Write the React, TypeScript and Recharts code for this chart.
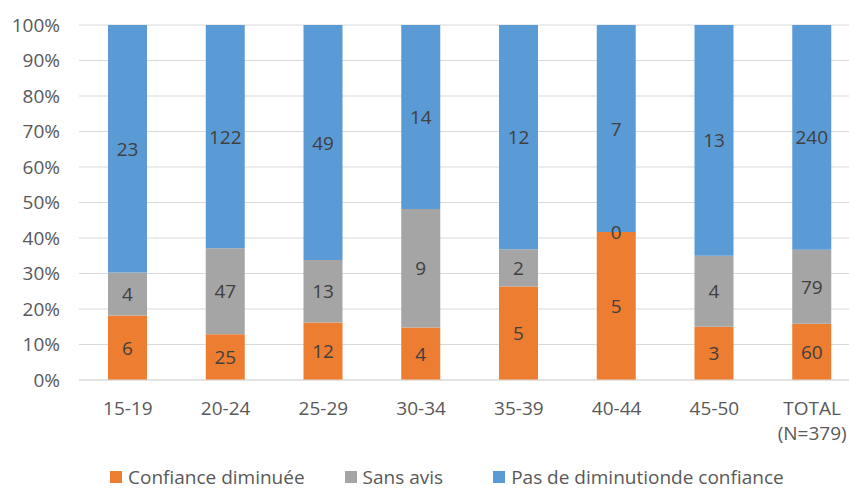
import React from 'react';
import { BarChart, Bar, XAxis, YAxis, CartesianGrid, Legend, LabelList } from 'recharts';

const categories = ['15-19', '20-24', '25-29', '30-34', '35-39', '40-44', '45-50', 'TOTAL\n(N=379)'];
const confianceDiminuee = [6, 25, 12, 4, 5, 5, 3, 60];
const sansAvis = [4, 47, 13, 9, 2, 0, 4, 79];
const pasDeDiminution = [23, 122, 49, 14, 12, 7, 13, 240];
const yTicks = [0, 0.1, 0.2, 0.3, 0.4, 0.5, 0.6, 0.7, 0.8, 0.9, 1];

const seriesNames = ['Confiance diminuée', 'Sans avis', 'Pas de diminutionde confiance'];
const colors = ['#ED7D31', '#A5A5A5', '#5B9BD5'];

const data = categories.map((c, i) => ({
  cat: c,
  a: confianceDiminuee[i],
  b: sansAvis[i],
  c: pasDeDiminution[i],
}));

const FONT = '"Open Sans", sans-serif';

const XTick = (props: any) => {
  const { x, payload } = props;
  const lines = String(payload.value).split('\n');
  return (
    <g>
      {lines.map((l: string, i: number) => (
        <text key={i} x={x} y={415 + i * 25} textAnchor="middle" fill="#595959" fontSize={19} fontFamily={FONT}>
          {l}
        </text>
      ))}
    </g>
  );
};

const LegendContent = () => {
  const gaps = [40, 50, 0];
  return (
    <div style={{ display: 'flex', alignItems: 'center', paddingLeft: 110, fontFamily: FONT, fontSize: 19, lineHeight: '20px', color: '#595959', whiteSpace: 'nowrap' }}>
      {seriesNames.map((n, i) => (
        <div key={n} style={{ display: 'flex', alignItems: 'center', marginRight: gaps[i] }}>
          <div style={{ width: 12, height: 12, background: colors[i], marginRight: 6 }} />
          <span>{n}</span>
        </div>
      ))}
    </div>
  );
};

const ValueLabel = (props: any) => {
  const { x, y, width, height, value } = props;
  if (value == null) return null;
  return (
    <text
      x={Number(x) + Number(width) / 2}
      y={Number(y) + Number(height) / 2}
      textAnchor="middle"
      dominantBaseline="central"
      fill="#404040"
      fontSize={19}
      fontFamily={FONT}
    >
      {value}
    </text>
  );
};

export default function App() {
  return (
    <div style={{ position: 'fixed', left: 0, top: 0, width: 849, height: 490, overflow: 'hidden', background: '#fff' }}>
      <BarChart
        width={870}
        height={490}
        data={data}
        stackOffset="expand"
        margin={{ top: 25, right: 9, bottom: 0, left: 0 }}
      >
        <CartesianGrid vertical={false} stroke="#D9D9D9" />
        <XAxis
          dataKey="cat"
          height={110}
          tickLine={false}
          axisLine={{ stroke: '#D9D9D9' }}
          tick={<XTick />}
          interval={0}
        />
        <XAxis xAxisId="lbl" dataKey="cat" hide />
        <YAxis
          width={79}
          domain={[0, 1]}
          ticks={yTicks}
          tickFormatter={(v: number) => `${Math.round(v * 100)}%`}
          axisLine={false}
          tickLine={false}
          tickSize={0}
          tickMargin={19}
          tick={{ fill: '#595959', fontSize: 19, fontFamily: FONT }}
        />
        <Legend
          verticalAlign="middle"
          align="center"
          content={<LegendContent />}
          wrapperStyle={{ top: 467, left: 0, width: 870 }}
        />
        {(['a', 'b', 'c'] as const).map((k, i) => (
          <Bar
            key={k}
            dataKey={k}
            name={seriesNames[i]}
            stackId="s"
            fill={colors[i]}
            barSize={39}
            isAnimationActive={false}
          />
        ))}
        {(['a', 'b', 'c'] as const).map((k) => (
          <Bar
            key={`l${k}`}
            xAxisId="lbl"
            dataKey={k}
            stackId="labels"
            fill="none"
            barSize={39}
            minPointSize={k === 'b' ? 0.01 : 0}
            legendType="none"
            isAnimationActive={false}
          >
            <LabelList dataKey={k} content={<ValueLabel />} />
          </Bar>
        ))}
      </BarChart>
    </div>
  );
}
